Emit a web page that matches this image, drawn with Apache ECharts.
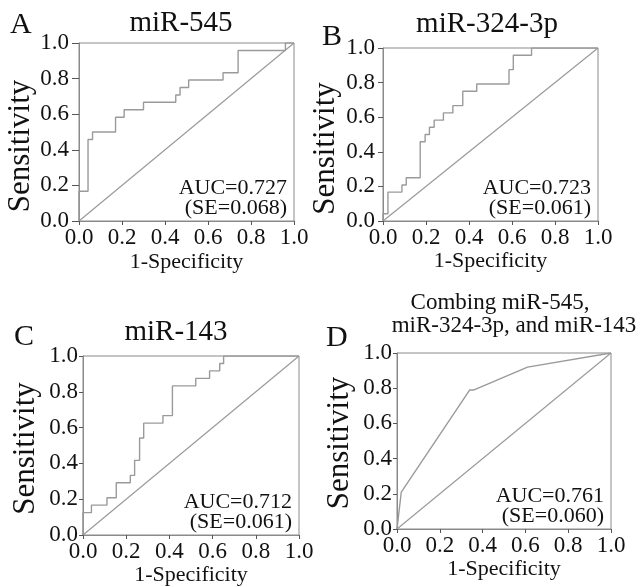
<!DOCTYPE html>
<html>
<head>
<meta charset="utf-8">
<script src="https://cdn.jsdelivr.net/npm/echarts@6/dist/echarts.min.js"></script>
<style>
  html, body { margin: 0; padding: 0; background: #fff; }
  #chart { width: 640px; height: 587px; }
</style>
</head>
<body>
<div id="chart"></div>
<script>
// ROC curve vertices (1-specificity, sensitivity).
const fprA = [0, 0, 0.042, 0.063, 0.17, 0.21, 0.30, 0.45, 0.47, 0.51, 0.67, 0.74, 0.96, 1.0];
const tprA = [0, 0.167, 0.458, 0.5, 0.583, 0.625, 0.667, 0.708, 0.75, 0.792, 0.833, 0.958, 1.0, 1.0];

const fprB = [0, 0, 0.023, 0.088, 0.108, 0.173, 0.196, 0.216, 0.238, 0.281, 0.325, 0.371, 0.436, 0.586, 0.606, 0.691, 1.0];
const tprB = [0, 0.042, 0.167, 0.208, 0.25, 0.458, 0.5, 0.542, 0.583, 0.625, 0.667, 0.75, 0.792, 0.875, 0.958, 1.0, 1.0];

const fprC = [0, 0, 0.039, 0.111, 0.154, 0.219, 0.239, 0.262, 0.281, 0.370, 0.414, 0.522, 0.586, 0.633, 0.651, 1.0];
const tprC = [0, 0.125, 0.167, 0.208, 0.292, 0.333, 0.417, 0.542, 0.625, 0.667, 0.833, 0.875, 0.917, 0.958, 1.0, 1.0];

const fprD = [0, 0.02, 0.34, 0.36, 0.61, 1.0];
const tprD = [0, 0.21, 0.79, 0.79, 0.92, 1.0];

const refX = [0, 1];
const refY = [0, 1];

const panelLetters = ['A', 'B', 'C', 'D'];
const panelTitles = ['miR-545', 'miR-324-3p', 'miR-143', 'Combing miR-545,', 'miR-324-3p, and miR-143'];
const aucLabels = ['AUC=0.727', 'AUC=0.723', 'AUC=0.712', 'AUC=0.761'];
const seLabels = ['(SE=0.068)', '(SE=0.061)', '(SE=0.061)', '(SE=0.060)'];

const FONT = "'Liberation Serif', 'Times New Roman', serif";
const LINE = '#9a9a9a';
const BOX = '#8a8a8a';

const grids = [
  { left: 79, top: 43, width: 215, height: 178 },
  { left: 383, top: 48, width: 215, height: 173 },
  { left: 83, top: 356, width: 216, height: 179 },
  { left: 397, top: 353, width: 214, height: 176 }
];
const steps = ['end', 'end', 'end', false];
const curves = [[fprA, tprA], [fprB, tprB], [fprC, tprC], [fprD, tprD]];
// per panel tweaks so names and labels sit where the figure has them
const xNameGap = [30, 24, 20, 26];
const yNameShift = [28, 28, 6, 4];
const yLabelMargin = [10, 8, 5, 5];
const yTickLen = [7, 5, 4, 4];

const zip = (xs, ys) => xs.map((x, i) => [x, ys[i]]);

function axis(type, idx) {
  const isX = type === 'x';
  return {
    type: 'value', gridIndex: idx, min: 0, max: 1, interval: 0.2,
    name: isX ? '1-Specificity' : 'Sensitivity',
    nameLocation: 'middle',
    nameGap: isX ? xNameGap[idx] : 42,
    nameTextStyle: {
      fontFamily: FONT, fontSize: isX ? 22 : 31, color: '#111',
      padding: isX ? 0 : [0, yNameShift[idx], 0, 0]
    },
    axisLine: { show: true, lineStyle: { color: BOX, width: 1 } },
    axisTick: { show: true, length: isX ? 4 : yTickLen[idx], lineStyle: { color: '#555' } },
    axisLabel: {
      fontFamily: FONT, fontSize: 23, color: '#111', margin: isX ? 5 : yLabelMargin[idx],
      formatter: v => v.toFixed(1)
    },
    splitLine: { show: false }
  };
}

const chart = echarts.init(document.getElementById('chart'), null, { renderer: 'canvas' });

const series = [];
curves.forEach(([xs, ys], i) => {
  series.push({
    type: 'line', xAxisIndex: i, yAxisIndex: i, data: zip(refX, refY),
    symbol: 'none', silent: true, lineStyle: { color: LINE, width: 1.2 }
  });
  series.push({
    type: 'line', xAxisIndex: i, yAxisIndex: i, data: zip(xs, ys),
    step: steps[i], symbol: 'none', lineStyle: { color: LINE, width: 1.4 }
  });
});

// Panel letters, headings and AUC notes.
const letterPos = [[10, 10], [322, 22], [14, 322], [326, 323]];
const titlePos = [[181, 9], [487, 10], [176, 318], [500, 291], [514, 314]];
const text = (x, y, str, size, align) => ({
  type: 'text', x, y,
  style: {
    text: str, fontFamily: FONT, fontSize: size, fill: '#111',
    textAlign: align, textVerticalAlign: 'top'
  }
});

const graphic = [];
grids.forEach((g, i) => {
  graphic.push(text(letterPos[i][0], letterPos[i][1], panelLetters[i], 30, 'left'));
  const rx = g.left + g.width - 7;
  const by = g.top + g.height;
  graphic.push(text(rx, by - 44, aucLabels[i], 22, 'right'));
  graphic.push(text(rx, by - 24, seLabels[i], 22, 'right'));
});
panelTitles.forEach((t, i) => {
  graphic.push(text(titlePos[i][0], titlePos[i][1], t, i >= 3 ? 23 : 29, 'center'));
});

chart.setOption({
  backgroundColor: '#fff',
  animation: false,
  grid: grids.map(g => Object.assign({ show: true, borderColor: BOX, borderWidth: 1 }, g)),
  xAxis: grids.map((g, i) => axis('x', i)),
  yAxis: grids.map((g, i) => axis('y', i)),
  series,
  graphic
});
</script>
</body>
</html>
